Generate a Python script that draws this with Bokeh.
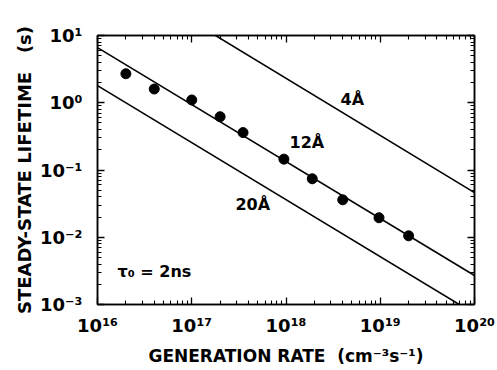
from bokeh.plotting import figure
from bokeh.models import LogAxis, FixedTicker
from bokeh.embed import file_html
from bokeh.resources import INLINE
from bokeh.core.properties import value

# ---- data ----
gen_rate = [2e16, 4e16, 1e17, 2e17, 3.5e17, 9.5e17, 1.9e18, 4e18, 9.7e18, 2e19]
lifetime = [2.7, 1.6, 1.1, 0.62, 0.36, 0.145, 0.074, 0.036, 0.0195, 0.0105]

line_x = [1e16, 1e20]
line_4A = [116.0, 0.046]
line_12A = [6.6, 0.0027]
line_20A = [1.8, 0.00073]

label_text = ["4Å", "12Å", "20Å", "τ₀ = 2ns"]
label_x = [3.79e18, 1.09e18, 2.91e17, 1.63e16]
label_y = [1.12, 0.256, 0.0307, 0.0031]

x_major = [1e16, 1e17, 1e18, 1e19, 1e20]
x_tick_labels = ["10¹⁶", "10¹⁷", "10¹⁸", "10¹⁹", "10²⁰"]
y_major = [1e-3, 1e-2, 1e-1, 1.0, 10.0]
y_tick_labels = ["10⁻³", "10⁻²", "10⁻¹", "10⁰", "10¹"]

NB = "\u00a0"
x_title = "GENERATION RATE" + NB * 2 + "(cm⁻³s⁻¹)"
y_title = "STEADY-STATE LIFETIME" + NB * 3 + "(s)"

FONT = "DejaVu Sans"

def minors(majors):
    out = []
    for m in majors[:-1]:
        for k in range(2, 10):
            out.append(m * k)
    return out

p = figure(width=497, height=370, x_axis_type="log", y_axis_type="log",
           x_range=(1e16, 1e20), y_range=(1e-3, 10),
           output_backend="svg", toolbar_location=None,
           min_border_left=97, min_border_right=23,
           min_border_top=35, min_border_bottom=66)

p.xgrid.visible = False
p.ygrid.visible = False
p.outline_line_color = "black"
p.outline_line_width = 1.5
p.background_fill_color = "white"
p.border_fill_color = "white"

def style_axis(ax, majors, labels=None):
    ax.ticker = FixedTicker(ticks=majors, minor_ticks=minors(majors))
    ax.major_tick_in = 7
    ax.major_tick_out = 0
    ax.minor_tick_in = 4
    ax.minor_tick_out = 0
    ax.major_tick_line_width = 1.3
    ax.minor_tick_line_width = 1.1
    ax.axis_line_width = 1.5
    ax.major_tick_line_color = "black"
    ax.minor_tick_line_color = "black"
    ax.axis_line_color = "black"
    if labels is None:
        ax.major_label_text_font_size = "0px"
        ax.major_label_text_alpha = 0
    else:
        ax.major_label_overrides = {v: t for v, t in zip(majors, labels)}
        ax.major_label_text_font = FONT
        ax.major_label_text_font_style = "bold"
        ax.major_label_text_font_size = "18px"
        ax.major_label_text_color = "black"
        ax.axis_label_text_font = FONT
        ax.axis_label_text_font_style = "bold"
        ax.axis_label_text_font_size = "17px"
        ax.axis_label_text_color = "black"

style_axis(p.xaxis[0], x_major, x_tick_labels)
style_axis(p.yaxis[0], y_major, y_tick_labels)
p.xaxis[0].axis_label = x_title
p.yaxis[0].axis_label = y_title
p.yaxis[0].axis_label_text_font_size = "18px"
p.xaxis[0].major_label_standoff = 10
p.yaxis[0].major_label_standoff = 15
p.xaxis[0].axis_label_standoff = 7
p.yaxis[0].axis_label_standoff = 2

top = LogAxis()
right = LogAxis()
style_axis(top, x_major)
style_axis(right, y_major)
top.major_label_standoff = 0
right.major_label_standoff = 0
p.add_layout(top, "above")
p.add_layout(right, "right")

for ys in (line_4A, line_12A, line_20A):
    p.line(line_x, ys, line_color="black", line_width=1.6)

p.scatter(gen_rate, lifetime, size=10, fill_color="black", line_color="black")

p.text(x=label_x, y=label_y, text=label_text,
       text_font=value(FONT), text_font_style="bold", text_font_size="16px",
       text_baseline="middle", text_align="left", text_color="black")

open("out.html", "w").write(file_html(p, INLINE))
